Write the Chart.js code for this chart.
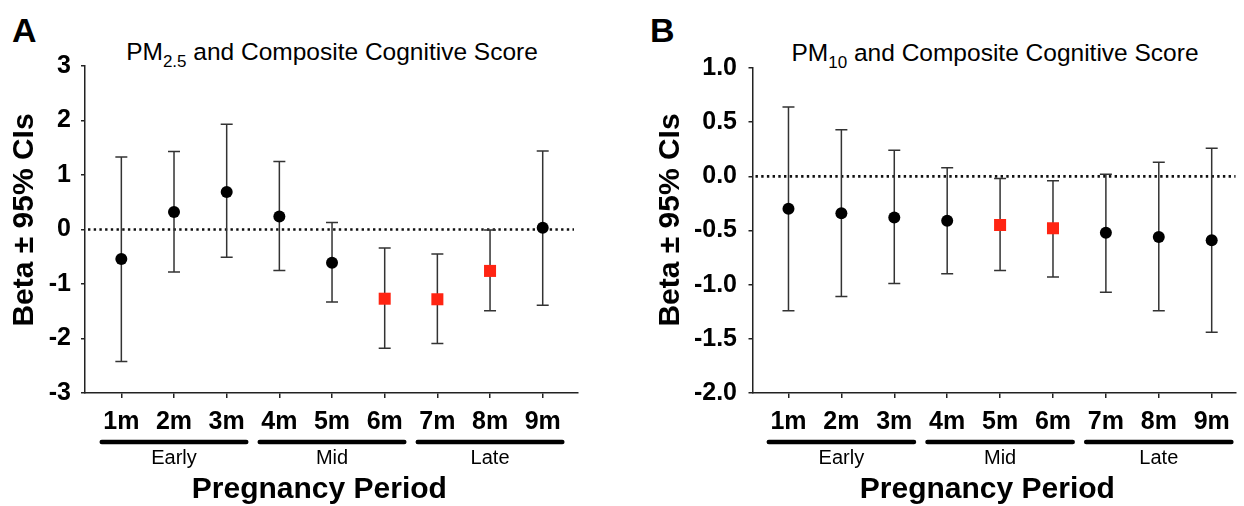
<!DOCTYPE html>
<html lang="en">
<head>
    <meta charset="UTF-8">
    <title>PM and Composite Cognitive Score</title>
    <script src="https://cdn.jsdelivr.net/npm/chart.js@4"></script>
    <style>
        body { margin: 0; background: #fff; font-family: "Liberation Sans", Arial, sans-serif; }
        #wrap { position: relative; width: 1244px; height: 506px; overflow: hidden; }
        canvas { position: absolute; top: 0; }
        .letter { position: absolute; font-weight: bold; font-size: 34px; line-height: 34px; }
        .title { position: absolute; width: 600px; font-size: 24.5px; line-height: 24px; white-space: nowrap; text-align: center; }
        .title sub { font-size: 17px; line-height: 0; vertical-align: baseline; position: relative; top: 7px; }
    </style>
</head>
<body>
<div id="wrap">
    <div class="letter" style="left:12px; top:13px;">A</div>
    <div class="letter" style="left:650px; top:13px;">B</div>
    <div class="title" style="left:32px; top:40px;">PM<sub>2.5</sub> and Composite Cognitive Score</div>
    <div class="title" style="left:695px; top:41px;">PM<sub>10</sub> and Composite Cognitive Score</div>
    <canvas id="chartA" width="600" height="506" style="left:0"></canvas>
    <canvas id="chartB" width="644" height="506" style="left:600px"></canvas>
</div>

<script>
    const months = ['1m', '2m', '3m', '4m', '5m', '6m', '7m', '8m', '9m'];
    const periods = ['Early', 'Mid', 'Late'];
    const periodSpans = [[0, 2], [3, 5], [6, 8]]; // month indexes in each period

    // PM2.5 panel
    const pm25Beta  = [-0.54, 0.32, 0.69, 0.24, -0.61, -1.27, -1.28, -0.76, 0.03];
    const pm25Lower = [-2.42, -0.78, -0.51, -0.75, -1.33, -2.18, -2.09, -1.49, -1.39];
    const pm25Upper = [1.33, 1.43, 1.93, 1.25, 0.13, -0.34, -0.45, -0.01, 1.44];
    const pm25Sig   = [false, false, false, false, false, true, true, true, false];
    const pm25Ticks = [-3, -2, -1, 0, 1, 2, 3];

    // PM10 panel
    const pm10Beta  = [-0.30, -0.34, -0.38, -0.41, -0.45, -0.48, -0.52, -0.56, -0.59];
    const pm10Lower = [-1.24, -1.11, -0.99, -0.90, -0.87, -0.93, -1.07, -1.24, -1.44];
    const pm10Upper = [0.64, 0.43, 0.24, 0.08, -0.02, -0.04, 0.02, 0.13, 0.26];
    const pm10Sig   = [false, false, false, false, true, true, false, false, false];
    const pm10Ticks = [-2.0, -1.5, -1.0, -0.5, 0.0, 0.5, 1.0];

    const FONT = '"Liberation Sans", Arial, sans-serif';
    const RED = '#ff2412';

    function makePanel(id, o) {
        // error bars, zero line, period bars and axis titles
        const decor = {
            id: 'decor',
            beforeDatasetsDraw(chart) {
                const { ctx, chartArea: a, scales: { x, y } } = chart;
                ctx.save();
                const y0 = y.getPixelForValue(0);
                ctx.strokeStyle = '#111';
                ctx.lineWidth = 2.6;
                ctx.setLineDash([2.4, 3.3]);
                ctx.beginPath();
                ctx.moveTo(a.left + 3, y0);
                ctx.lineTo(a.right - o.zeroEnd, y0);
                ctx.stroke();
                ctx.setLineDash([]);

                ctx.strokeStyle = '#333';
                ctx.lineWidth = 1.5;
                o.lower.forEach((lo, i) => {
                    const px = x.getPixelForValue(i + 1);
                    const t = y.getPixelForValue(o.upper[i]);
                    const b = y.getPixelForValue(lo);
                    ctx.beginPath();
                    ctx.moveTo(px, t); ctx.lineTo(px, b);
                    ctx.moveTo(px - 6, t); ctx.lineTo(px + 6, t);
                    ctx.moveTo(px - 6, b); ctx.lineTo(px + 6, b);
                    ctx.stroke();
                });
                ctx.restore();
            },
            afterDraw(chart) {
                const { ctx, chartArea: a, scales: { x } } = chart;
                ctx.save();
                ctx.fillStyle = '#000';
                ctx.strokeStyle = '#000';
                ctx.lineCap = 'round';
                ctx.lineWidth = 4.5;
                ctx.textAlign = 'center';
                ctx.textBaseline = 'middle';
                ctx.font = '20px ' + FONT;
                periodSpans.forEach(([s, e], k) => {
                    const x1 = x.getPixelForValue(s + 1 - 0.41) + 2;
                    const x2 = x.getPixelForValue(e + 1 + 0.41) - 2;
                    ctx.beginPath();
                    ctx.moveTo(x1, a.bottom + 49);
                    ctx.lineTo(x2, a.bottom + 49);
                    ctx.stroke();
                    ctx.fillText(periods[k], x.getPixelForValue((s + e) / 2 + 1), a.bottom + 65);
                });
                ctx.font = 'bold 30px ' + FONT;
                ctx.fillText('Pregnancy Period', x.getPixelForValue(4.76), a.bottom + 97);

                ctx.translate(o.yTitleX, 220);
                ctx.rotate(-Math.PI / 2);
                ctx.fillText('Beta \u00b1 95% CIs', 0, 0);
                ctx.restore();
            }
        };

        const tickFont = { family: FONT, size: 25, weight: 'bold' };

        return new Chart(document.getElementById(id), {
            type: 'scatter',
            data: {
                datasets: [{
                    data: o.beta.map((v, i) => ({ x: i + 1, y: v })),
                    pointStyle: c => o.sig[c.dataIndex] ? 'rect' : 'circle',
                    pointRadius: c => o.sig[c.dataIndex] ? 8.5 : 6,
                    pointHoverRadius: c => o.sig[c.dataIndex] ? 8.5 : 6,
                    backgroundColor: c => o.sig[c.dataIndex] ? RED : '#000',
                    borderWidth: 0
                }]
            },
            options: {
                responsive: false,
                animation: false,
                events: [],
                layout: { padding: { top: o.padTop, right: o.padRight, left: 0, bottom: 0 } },
                plugins: { legend: { display: false }, tooltip: { enabled: false } },
                scales: {
                    x: {
                        type: 'linear',
                        min: o.xMin,
                        max: o.xMax,
                        afterBuildTicks: s => { s.ticks = months.map((m, i) => ({ value: i + 1 })); },
                        afterFit: s => { s.height = 113; },
                        ticks: {
                            autoSkip: false, maxRotation: 0, color: '#000', padding: 9,
                            font: tickFont,
                            callback: (v, i) => months[i]
                        },
                        grid: { drawOnChartArea: false, drawTicks: true, tickLength: 5, color: '#222', lineWidth: 1.5 },
                        border: { display: true, color: '#222', width: 1.5 }
                    },
                    y: {
                        min: o.yTicks[0],
                        max: o.yTicks[o.yTicks.length - 1],
                        afterBuildTicks: s => { s.ticks = o.yTicks.map(v => ({ value: v })); },
                        afterFit: s => { s.width = o.yWidth; },
                        ticks: {
                            color: '#000', padding: o.tickPad,
                            font: tickFont,
                            callback: v => Number(v).toFixed(o.decimals)
                        },
                        grid: { drawOnChartArea: false, drawTicks: true, tickLength: 4, color: '#222', lineWidth: 1.5 },
                        border: { display: true, color: '#222', width: 1.5 }
                    }
                }
            },
            plugins: [decor]
        });
    }

    makePanel('chartA', {
        beta: pm25Beta, lower: pm25Lower, upper: pm25Upper, sig: pm25Sig,
        yTicks: pm25Ticks, decimals: 0,
        xMin: 0.31, xMax: 9.67, yWidth: 85, padTop: 66, padRight: 22,
        tickPad: 10, yTitleX: 25, zeroEnd: 4
    });

    makePanel('chartB', {
        beta: pm10Beta, lower: pm10Lower, upper: pm10Upper, sig: pm10Sig,
        yTicks: pm10Ticks, decimals: 1,
        xMin: 0.32, xMax: 9.45, yWidth: 152.5, padTop: 68, padRight: 0,
        tickPad: 11.5, yTitleX: 71, zeroEnd: 0
    });
</script>
</body>
</html>
